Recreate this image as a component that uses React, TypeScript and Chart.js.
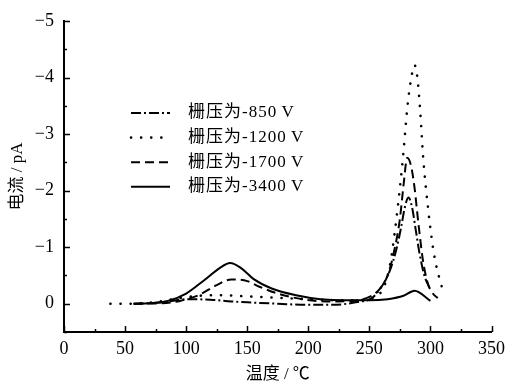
import React, { useEffect, useRef } from 'react';
import { Chart, registerables } from 'chart.js';

Chart.register(...registerables);

// ---- data (temperature °C, current pA) ----
const seriesLabels = ['栅压为-850\u2009V', '栅压为-1200\u2009V', '栅压为-1700\u2009V', '栅压为-3400\u2009V'];

const temp850 = [57, 80, 100, 120, 137, 155, 175, 200, 220, 240, 252, 260, 267, 272, 276, 279, 282, 285, 288, 291, 295, 300];
const curr850 = [0, -0.02, -0.08, -0.07, -0.04, -0.02, 0, 0.02, 0.02, -0.03, -0.1, -0.3, -0.6, -0.95, -1.35, -1.7, -1.88, -1.7, -1.3, -0.9, -0.5, -0.25];

const temp1200 = [38, 55, 75, 95, 110, 130, 150, 170, 190, 210, 230, 245, 255, 262, 267, 271, 275, 278, 281, 284, 287, 289, 291.5, 294, 298, 302, 305, 308, 311];
const curr1200 = [0, 0, -0.03, -0.1, -0.14, -0.15, -0.13, -0.11, -0.09, -0.07, -0.06, -0.07, -0.12, -0.3, -0.7, -1.3, -2.05, -2.7, -3.45, -3.95, -4.22, -4.05, -3.45, -2.6, -1.7, -1.0, -0.65, -0.4, -0.17];

const temp1700 = [57, 80, 95, 110, 125, 137, 150, 160, 175, 195, 215, 235, 250, 258, 265, 270, 275, 278, 281, 284, 287, 290, 294, 298, 302, 306];
const curr1700 = [0, -0.01, -0.05, -0.15, -0.33, -0.43, -0.4, -0.3, -0.18, -0.08, -0.04, -0.05, -0.12, -0.25, -0.5, -0.9, -1.5, -2.1, -2.58, -2.45, -2.05, -1.45, -0.75, -0.35, -0.18, -0.1];

const temp3400 = [57, 70, 85, 100, 115, 128, 136, 145, 155, 170, 190, 210, 230, 250, 265, 278, 287, 300];
const curr3400 = [0, -0.01, -0.05, -0.18, -0.42, -0.64, -0.72, -0.63, -0.44, -0.27, -0.15, -0.08, -0.06, -0.06, -0.08, -0.14, -0.23, -0.05];

const xTickMin = 0;
const xTickMax = 350;
const xMajorStep = 50;
const xMinorStep = 25;
const yTickMin = -5;
const yTickMax = 0.5;
const yMajorStep = 1;
const yMinorStep = 0.5;

const xTitle = '温度 / ℃';
const yTitle = '电流 / pA';

const dashes = [[10, 3, 2, 3], [0.1, 10], [9, 5], []];
const widths = [2, 2.6, 2, 2];
const caps = ['butt', 'round', 'butt', 'butt'];

const FONT = "'Liberation Serif', 'Noto Sans CJK SC', serif";

const toPoints = (xs: number[], ys: number[]) => xs.map((x, i) => ({ x, y: ys[i] }));

const tickPlugin = {
  id: 'inwardTicks',
  afterDraw(chart: any) {
    const { ctx, chartArea, scales } = chart;
    const x = scales.x;
    const y = scales.y;
    ctx.save();
    ctx.strokeStyle = '#000';
    ctx.lineWidth = 1.5;
    for (let v = xTickMin; v <= xTickMax + 1e-9; v += xMinorStep) {
      const px = Math.round(x.getPixelForValue(v)) + 0.5;
      const len = v % xMajorStep === 0 ? 6 : 3;
      ctx.beginPath();
      ctx.moveTo(px, chartArea.bottom);
      ctx.lineTo(px, chartArea.bottom - len);
      ctx.stroke();
    }
    for (let v = yTickMin; v <= yTickMax + 1e-9; v += yMinorStep) {
      const py = Math.round(y.getPixelForValue(v)) + 0.5;
      const len = Math.abs(v - Math.round(v)) < 1e-9 ? 6 : 3;
      ctx.beginPath();
      ctx.moveTo(chartArea.left, py);
      ctx.lineTo(chartArea.left + len, py);
      ctx.stroke();
    }
    ctx.restore();
  },
};

const legendPlugin = {
  id: 'inlineLegend',
  afterDraw(chart: any) {
    const { ctx } = chart;
    ctx.save();
    chart.data.datasets.forEach((ds: any, i: number) => {
      const yy = 113 + i * 24.6;
      ctx.strokeStyle = '#000';
      ctx.lineWidth = ds.borderWidth;
      ctx.lineCap = ds.borderCapStyle;
      ctx.setLineDash(ds.borderDash || []);
      ctx.beginPath();
      ctx.moveTo(131, yy);
      ctx.lineTo(170, yy);
      ctx.stroke();
      ctx.setLineDash([]);
      ctx.fillStyle = '#000';
      ctx.font = `17px ${FONT}`;
      (ctx as any).letterSpacing = '1px';
      ctx.textAlign = 'left';
      ctx.textBaseline = 'middle';
      ctx.fillText(ds.label, 188, yy);
    });
    ctx.restore();
  },
};

export default function App() {
  const ref = useRef<HTMLCanvasElement>(null);
  useEffect(() => {
    if (!ref.current) return;
    const all = [
      toPoints(temp850, curr850),
      toPoints(temp1200, curr1200),
      toPoints(temp1700, curr1700),
      toPoints(temp3400, curr3400),
    ];
    const chart = new Chart(ref.current, {
      type: 'line',
      data: {
        datasets: all.map((d, i) => ({
          label: seriesLabels[i],
          data: d,
          borderColor: '#000',
          borderWidth: widths[i],
          borderDash: dashes[i],
          borderCapStyle: caps[i],
          pointRadius: 0,
          fill: false,
          cubicInterpolationMode: 'monotone',
        })) as any,
      },
      options: {
        animation: false,
        responsive: false,
        maintainAspectRatio: false,
        layout: { padding: { top: 21, right: 15, left: 0, bottom: 0 } },
        plugins: { legend: { display: false }, tooltip: { enabled: false } },
        scales: {
          x: {
            type: 'linear',
            min: xTickMin,
            max: xTickMax,
            grid: { display: false, drawTicks: false },
            border: { display: true, color: '#000', width: 2 },
            ticks: {
              stepSize: xMajorStep,
              color: '#000',
              padding: 6,
              font: { family: FONT, size: 18 },
              maxRotation: 0,
              autoSkip: false,
              includeBounds: false,
            },
            title: {
              display: true,
              text: xTitle,
              color: '#000',
              font: { family: FONT, size: 17 },
              padding: { top: 0, bottom: 0 },
            },
            afterFit: (s: any) => {
              s.height = 53;
            },
          },
          y: {
            type: 'linear',
            reverse: true,
            min: yTickMin,
            max: yTickMax,
            grid: { display: false, drawTicks: false },
            border: { display: true, color: '#000', width: 2 },
            ticks: {
              stepSize: yMajorStep,
              color: '#000',
              padding: 10,
              includeBounds: false,
              font: { family: FONT, size: 18 },
              callback: (v: any) => {
                const n = Number(v);
                if (Math.abs(n - Math.round(n)) > 1e-9) return '';
                return n < 0 ? '\u2212' + Math.abs(n) : String(n);
              },
            },
            title: {
              display: true,
              text: yTitle,
              color: '#000',
              font: { family: FONT, size: 17 },
              padding: { top: 7, bottom: 0 },
            },
            afterFit: (s: any) => {
              s.width = 64;
            },
          },
        },
      },
      plugins: [tickPlugin, legendPlugin],
    });
    return () => chart.destroy();
  }, []);
  return (
    <div style={{ position: 'absolute', left: 0, top: 0, width: 511, height: 385, background: '#fff' }}>
      <canvas ref={ref} width={511} height={385} style={{ display: 'block' }} />
    </div>
  );
}
